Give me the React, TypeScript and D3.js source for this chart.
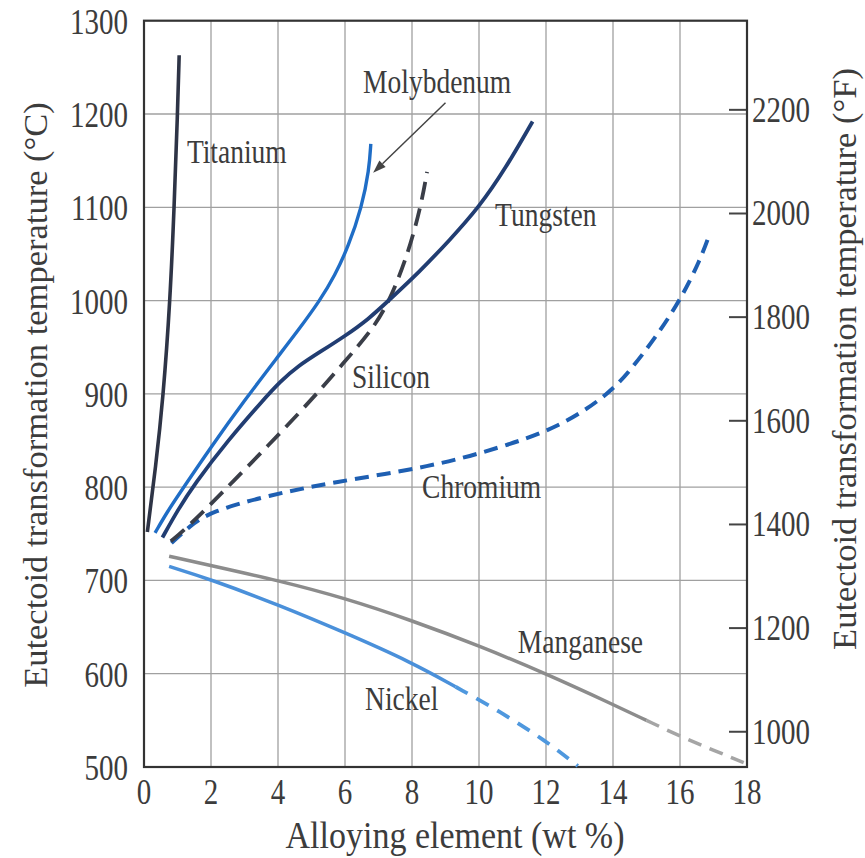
import React from 'react';
import * as d3 from 'd3';

type P = [number, number];

const xTicks = [0, 2, 4, 6, 8, 10, 12, 14, 16, 18];
const yTicksC = [500, 600, 700, 800, 900, 1000, 1100, 1200, 1300];
const yTicksF = [1000, 1200, 1400, 1600, 1800, 2000, 2200];

const titanium: P[] = [[0.1, 752], [0.35, 822], [0.57, 895], [0.78, 1000], [0.9, 1100], [1.0, 1200], [1.05, 1263]];
const molybdenum: P[] = [[0.33, 751], [0.7, 774], [1.15, 798], [2.0, 843], [3.0, 893], [4.0, 940], [4.6, 968], [5.25, 1000], [5.7, 1027], [6.1, 1058], [6.5, 1100], [6.72, 1140], [6.77, 1168]];
const tungsten: P[] = [[0.55, 746], [1.0, 775], [1.5, 803], [2.5, 850], [3.55, 893], [4.06, 913], [4.6, 930], [5.3, 946], [6.0, 962], [6.7, 980], [7.3, 1000], [8.2, 1030], [9.13, 1065], [10.0, 1100], [10.8, 1142], [11.6, 1192]];
const silicon: P[] = [[0.8, 742], [1.3, 757], [2.5, 800], [4.8, 885], [6.0, 935], [6.8, 968], [7.34, 1000], [7.88, 1050], [8.26, 1100], [8.45, 1138]];
const chromium: P[] = [[0.82, 740], [1.35, 758], [2.0, 774], [3.7, 791], [5.6, 805], [8.6, 822], [10.6, 842], [12.4, 864], [13.9, 900], [14.6, 929], [15.3, 962], [16.0, 1000], [16.6, 1043], [16.9, 1073]];
const manganeseSolid: P[] = [[0.75, 726], [2, 716], [4, 700], [6, 681], [8, 657], [10, 630], [12, 600], [14, 567], [15, 550]];
const manganeseDashed: P[] = [[15, 550], [16, 533], [17, 518], [17.95, 504]];
const nickelSolid: P[] = [[0.75, 715], [2, 701], [4, 674], [6, 644], [8, 612], [9.3, 586]];
const nickelDashed: P[] = [[9.3, 586], [10.6, 560], [12, 528], [12.95, 501]];

const labels: { text: string; wt: number; temp: number }[] = [
  { text: 'Titanium', wt: 1.28, temp: 1147 },
  { text: 'Molybdenum', wt: 6.54, temp: 1223 },
  { text: 'Tungsten', wt: 10.48, temp: 1080 },
  { text: 'Silicon', wt: 6.21, temp: 906 },
  { text: 'Chromium', wt: 8.3, temp: 788 },
  { text: 'Manganese', wt: 11.16, temp: 622 },
  { text: 'Nickel', wt: 6.6, temp: 561 },
];

const arrowFrom: P = [9.0, 1212];
const arrowTo: P = [6.84, 1137];

const W = 865;
const H = 858;
const FONT = '"Liberation Serif", "Times New Roman", serif';
const TEXT = '#3c3c3c';

export default function App() {
  const x = d3.scaleLinear().domain([0, 18]).range([144, 747]);
  const y = d3.scaleLinear().domain([500, 1300]).range([767, 20.7]);
  const yF = d3.scaleLinear().domain([500 * 9 / 5 + 32, 1300 * 9 / 5 + 32]).range([767, 20.7]);
  const line = d3.line<P>().x(d => x(d[0])).y(d => y(d[1])).curve(d3.curveBasis);

  const [x0, x1] = x.range();
  const [y0, y1] = y.range();

  const ax = x(arrowFrom[0]), ay = y(arrowFrom[1]);
  const bx = x(arrowTo[0]), by = y(arrowTo[1]);
  const ang = Math.atan2(by - ay, bx - ax);
  const hl = 13, hw = 4.5;
  const hx = bx - hl * Math.cos(ang), hy = by - hl * Math.sin(ang);
  const head = `M${bx},${by} L${hx + hw * Math.sin(ang)},${hy - hw * Math.cos(ang)} L${hx - hw * Math.sin(ang)},${hy + hw * Math.cos(ang)} Z`;

  return (
    <svg width={W} height={H} style={{ position: 'absolute', left: 0, top: 0, background: '#fff' }} fontFamily={FONT}>
      <rect width={W} height={H} fill="#fff" />
      {xTicks.slice(1, -1).map(t => (
        <line key={'gx' + t} x1={x(t)} x2={x(t)} y1={y1} y2={y0} stroke="#a0a0a0" strokeWidth={1.3} />
      ))}
      {yTicksC.slice(1, -1).map(t => (
        <line key={'gy' + t} x1={x0} x2={x1} y1={y(t)} y2={y(t)} stroke="#a0a0a0" strokeWidth={1.3} />
      ))}
      {yTicksF.map(t => (
        <line key={'tf' + t} x1={x1 - 18} x2={x1} y1={yF(t)} y2={yF(t)} stroke="#444" strokeWidth={2} />
      ))}
      <rect x={x0} y={y1} width={x1 - x0} height={y0 - y1} fill="none" stroke="#333" strokeWidth={2.2} />

      <path d={line(manganeseSolid)!} fill="none" stroke="#8c8c8c" strokeWidth={3.5} />
      <path d={line(manganeseDashed)!} fill="none" stroke="#a5a5a5" strokeWidth={3.5} strokeDasharray="14 9" />
      <path d={line(nickelSolid)!} fill="none" stroke="#4a90da" strokeWidth={3.5} />
      <path d={line(nickelDashed)!} fill="none" stroke="#4f98de" strokeWidth={3.8} strokeDasharray="14 10" />
      <path d={line(chromium)!} fill="none" stroke="#1e5fb2" strokeWidth={4} strokeDasharray="14 8" />
      <path d={line(silicon)!} fill="none" stroke="#3a3e48" strokeWidth={3.8} strokeDasharray="18 9" />
      <path d={line(tungsten)!} fill="none" stroke="#213d72" strokeWidth={3.8} />
      <path d={line(molybdenum)!} fill="none" stroke="#1f6dc6" strokeWidth={3.4} />
      <path d={line(titanium)!} fill="none" stroke="#2e3446" strokeWidth={3.6} />

      <line x1={ax} y1={ay} x2={hx} y2={hy} stroke="#444" strokeWidth={1.5} />
      <path d={head} fill="#444" />

      {labels.map(l => (
        <text key={l.text} transform={`translate(${x(l.wt)},${y(l.temp)}) scale(1,1.2)`} fontSize={27.5} fill={TEXT}>
          {l.text}
        </text>
      ))}

      {yTicksC.map(t => (
        <text key={'lc' + t} transform={`translate(128,${y(t) + 13}) scale(1,1.2)`} fontSize={29} textAnchor="end" fill={TEXT}>
          {t}
        </text>
      ))}
      {yTicksF.map(t => (
        <text key={'rf' + t} transform={`translate(752,${yF(t) + 12}) scale(1,1.2)`} fontSize={29} textAnchor="start" fill={TEXT}>
          {t}
        </text>
      ))}
      {xTicks.map(t => (
        <text key={'xt' + t} transform={`translate(${x(t)},804) scale(1,1.2)`} fontSize={29} textAnchor="middle" fill={TEXT}>
          {t}
        </text>
      ))}

      <text transform="translate(455,848) scale(1,1.1)" fontSize={34} textAnchor="middle" fill={TEXT}>
        Alloying element (wt %)
      </text>
      <text transform="translate(47,395) rotate(-90)" fontSize={34.5} textAnchor="middle" fill={TEXT}>
        Eutectoid transformation temperature (°C)
      </text>
      <text transform="translate(856,359) rotate(-90)" fontSize={34.5} textAnchor="middle" fill={TEXT}>
        Eutectoid transformation temperature (°F)
      </text>
    </svg>
  );
}
